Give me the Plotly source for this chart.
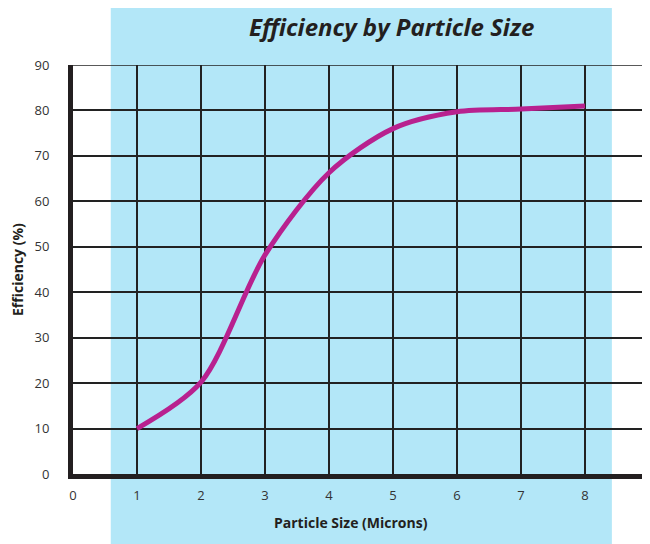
import plotly.graph_objects as go

particle_size = [1, 2, 3, 4, 5, 6, 7, 8]
efficiency = [10, 20.2, 48.2, 66.3, 76.0, 79.7, 80.3, 81.0]
x_ticks = [0, 1, 2, 3, 4, 5, 6, 7, 8, 9]
y_ticks = [0, 10, 20, 30, 40, 50, 60, 70, 80, 90]
x_range = [0, 9]
y_range = [0, 90]

fig = go.Figure()
fig.add_trace(go.Scatter(
    x=particle_size, y=efficiency, mode="lines",
    line=dict(color="#B8218F", width=5, shape="spline", smoothing=0.85),
    hoverinfo="skip", showlegend=False,
))

# light blue band behind plot
fig.add_shape(type="rect", xref="x", yref="paper", x0=0.59, x1=8.42, y0=-0.3, y1=1.3,
              fillcolor="#B3E7F8", line_width=0, layer="below")
# border gridlines at the top and right edges
fig.add_shape(type="line", xref="x", yref="y", x0=x_range[0], x1=x_range[1], y0=y_range[1], y1=y_range[1],
              line=dict(color="#222222", width=1.5), layer="above")
fig.add_shape(type="line", xref="x", yref="y", x0=x_range[1], x1=x_range[1], y0=y_range[0], y1=y_range[1],
              line=dict(color="#222222", width=1.5), layer="above")

font_fam = "Open Sans"
fig.update_layout(
    width=642, height=536,
    margin=dict(l=65, r=1, t=57, b=70),
    paper_bgcolor="white", plot_bgcolor="rgba(0,0,0,0)",
    font=dict(family=font_fam, color="#333333", size=13),
    xaxis=dict(range=x_range, tickvals=x_ticks, showgrid=True, gridcolor="#222222", gridwidth=1.5,
               zeroline=False, showline=True, linecolor="#231F20", linewidth=5, automargin=False,
               ticks="outside", ticklen=5, tickcolor="rgba(0,0,0,0)",
               tickfont=dict(size=13, color="#333333"), fixedrange=True),
    yaxis=dict(range=y_range, tickvals=y_ticks, showgrid=True, gridcolor="#222222", gridwidth=1.5,
               zeroline=False, showline=True, linecolor="#231F20", linewidth=5, automargin=False,
               ticks="outside", ticklen=16, tickcolor="rgba(0,0,0,0)",
               tickfont=dict(size=13, color="#333333"), fixedrange=True),
    annotations=[
        dict(text="<b><i>Efficiency by Particle Size</i></b>", xref="paper", yref="paper",
             x=(391 - 73) / 576, y=1 + 56 / 409, xanchor="center", yanchor="top", borderpad=0,
             showarrow=False, font=dict(size=24, color="#231F20", family=font_fam)),
        dict(text="<b>Particle Size (Microns)</b>", xref="paper", yref="paper",
             x=(351 - 73) / 576, y=-(522 - 474) / 409, xanchor="center", yanchor="middle",
             showarrow=False, font=dict(size=14, color="#231F20", family=font_fam)),
        dict(text="<b>Efficiency (%)</b>", xref="paper", yref="paper", textangle=-90,
             x=-(73 - 17) / 576, y=(474 - 270) / 409, xanchor="center", yanchor="middle",
             showarrow=False, font=dict(size=14, color="#231F20", family=font_fam)),
    ],
)

fig.write_html("out.html")
